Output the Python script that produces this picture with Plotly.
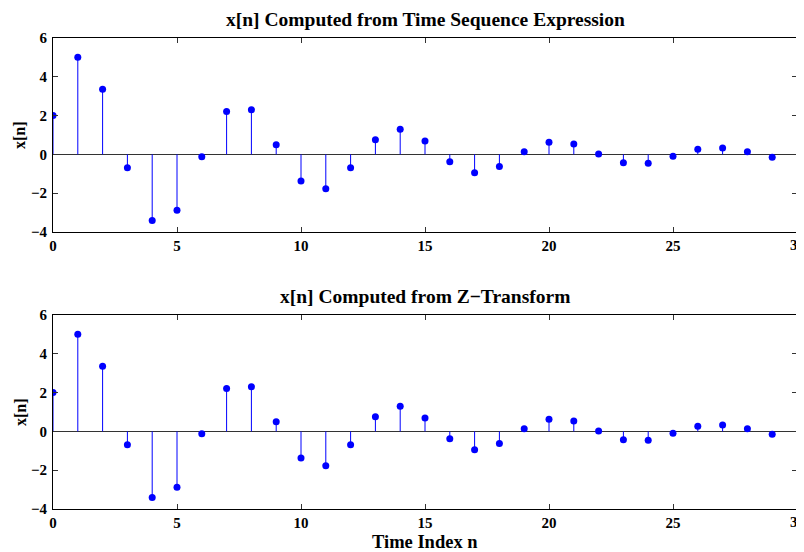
import plotly.graph_objects as go
from plotly.subplots import make_subplots

n = list(range(30))
x_time = [2.0, 5.01, 3.36, -0.69, -3.41, -2.88, -0.12, 2.21, 2.30, 0.50,
          -1.37, -1.77, -0.69, 0.75, 1.30, 0.69, -0.38, -0.94, -0.63, 0.14,
          0.63, 0.53, 0.02, -0.43, -0.45, -0.10, 0.26, 0.33, 0.14, -0.15]
x_z = list(x_time)

titles = ["x[n] Computed from Time Sequence Expression", "x[n] Computed from Z\u2212Transform"]
ylabel = "x[n]"
xlabel = "Time Index n"
xticks = [0, 5, 10, 15, 20, 25, 30]
yticks = [-4, -2, 0, 2, 4, 6]

FONT = "Liberation Serif, Times New Roman, serif"
BLUE = "#0000ff"
TICKFONT = dict(family=FONT, size=15, color="black", weight="bold")

fig = make_subplots(rows=2, cols=1, vertical_spacing=83/471)

for r, data in enumerate([x_time, x_z], start=1):
    sx, sy = [], []
    for xi, yi in zip(n, data):
        sx += [xi, xi, None]
        sy += [0, yi, None]
    fig.add_trace(go.Scatter(x=sx, y=sy, mode="lines", line=dict(color=BLUE, width=1),
                             hoverinfo="skip", showlegend=False), row=r, col=1)
    fig.add_trace(go.Scatter(x=n, y=data, mode="markers",
                             marker=dict(color=BLUE, size=7, line=dict(width=0)),
                             showlegend=False), row=r, col=1)
    fig.update_xaxes(range=[0, 30], tickvals=xticks, ticks="inside", ticklen=5,
                     tickcolor="#333", mirror="ticks", showline=True, linecolor="black",
                     linewidth=1, showgrid=False, zeroline=False, automargin=False,
                     tickfont=TICKFONT, row=r, col=1)
    fig.update_yaxes(range=[-4, 6], tickvals=yticks, ticks="inside", ticklen=5,
                     tickcolor="#333", mirror="ticks", showline=True, linecolor="black",
                     linewidth=1, showgrid=False, zeroline=True, zerolinecolor="#333",
                     zerolinewidth=1, automargin=False, ticklabelstandoff=2,
                     tickfont=TICKFONT, row=r, col=1)

doms = [fig.layout.yaxis.domain, fig.layout.yaxis2.domain]
for i, (t, d) in enumerate(zip(titles, doms)):
    fig.add_annotation(text=t, x=0.5, xref="paper", y=d[1], yref="paper",
                       xanchor="center", yanchor="bottom", yshift=6, showarrow=False,
                       font=dict(family=FONT, size=19.5, color="black", weight="bold"))
    fig.add_annotation(text=ylabel, x=0, xref="paper", y=(d[0] + d[1]) / 2, yref="paper",
                       xanchor="center", yanchor="middle", xshift=-33, textangle=-90,
                       showarrow=False,
                       font=dict(family=FONT, size=16, color="black", weight="bold"))
    # last x tick label, which the library hides because it runs past the page edge
    fig.add_annotation(text=str(xticks[-1]), x=xticks[-1], xref="x" if i == 0 else "x2",
                       y=d[0], yref="paper", xanchor="center", yanchor="middle",
                       yshift=-13, showarrow=False, font=TICKFONT)

fig.add_annotation(text=xlabel, x=0.5, xref="paper", y=0, yref="paper",
                   xanchor="center", yanchor="middle", yshift=-33, showarrow=False,
                   font=dict(family=FONT, size=18.5, color="black", weight="bold"))

fig.update_layout(width=796, height=544, margin=dict(l=45, r=7, t=30, b=43),
                  plot_bgcolor="white", paper_bgcolor="white",
                  font=dict(family=FONT, color="black"))

fig.write_html("out.html")
